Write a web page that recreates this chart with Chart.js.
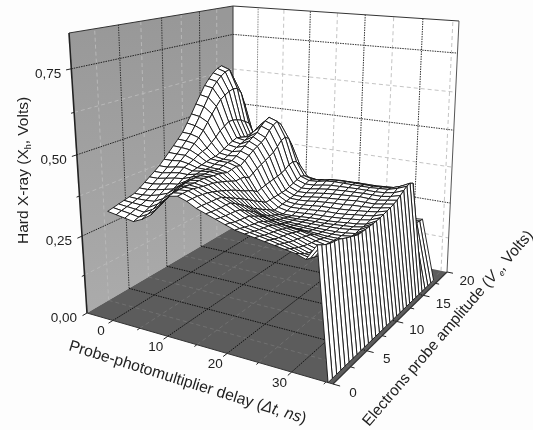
<!DOCTYPE html>
<html><head><meta charset="utf-8">
<style>html,body{margin:0;padding:0;background:#fdfdfd}canvas{display:block;position:absolute;left:0;top:0}</style>
<script src="https://cdn.jsdelivr.net/npm/chart.js@4"></script>
</head><body><canvas id="c" width="533" height="430"></canvas>
<script>
// ---- values ----
const delayTicks=[0,10,20,30];
const delayMinor=[5,15,25,35];
const ampTicks=[0,5,10,15,20];
const ampMinor=[2.5,7.5,12.5,17.5];
const hardTicks=[0,0.25,0.5,0.75];
const hardMinor=[0.125,0.375,0.625];
const hardLabels=["0,00","0,25","0,50","0,75"];
const delayRange=[-5,36];
const ampRange=[0,20];
const hardMax=0.85;
const delays=[0,1.5,3,4.5,6,7.5,9,10.5,12,13.5,15,16.5,18,19.5,21,22.5,24,25.5,27,28.5,30,31.5,33,35.3];
const amplitudes=[0,0.6,1.2,1.8,2.4,3,3.6,4.2,4.8,5.4,6,6.6,7.2,7.8,8.4,9,9.6,10.2,10.8,11.4,12,12.6,13.2,13.8,14.4,15,15.6,16.2,16.8,17.4,18];
// hard X-ray signal, mV: one row per amplitude, one value per delay
const signal=[
[345,340,335,330,342,360,395,425,430,420,405,395,385,375,365,360,355,350,345,340,335,325,370],
[349,345,341,336,349,368,402,428,431,421,406,393,382,372,362,356,351,346,340,334,326,320,362],
[353,350,347,343,357,377,408,430,432,421,405,392,380,368,358,352,346,341,335,327,318,315,355],
[357,355,353,351,366,386,414,431,431,419,404,391,379,366,355,349,343,337,330,321,312,311,350],
[361,360,360,362,375,396,420,431,428,417,404,392,378,364,352,346,340,334,326,317,308,308,347],
[365,365,368,375,385,405,425,430,425,413,402,390,375,362,350,344,337,331,323,313,305,306,345],
[375,375,379,385,391,410,427,431,423,408,394,381,366,354,344,338,332,327,319,310,303,304,339],
[386,386,390,396,399,414,428,431,421,403,386,371,357,347,337,332,327,322,315,307,301,303,333],
[397,397,402,407,410,419,428,429,417,397,378,361,348,338,330,325,321,317,311,304,300,303,328],
[408,408,413,417,416,422,427,426,412,391,370,350,336,326,318,314,311,308,304,300,298,302,323],
[420,420,425,428,421,425,428,425,407,384,361,338,323,313,306,303,301,300,298,296,296,300,318],
[435,435,438,433,425,424,425,421,401,376,352,329,314,306,301,299,298,297,296,295,296,300,318],
[451,450,450,440,428,424,423,417,395,368,342,320,306,299,296,295,294,294,294,294,296,300,318],
[467,465,462,449,432,428,428,420,396,362,333,312,300,295,294,294,294,294,295,296,299,303,319],
[483,481,476,455,435,432,432,424,394,355,325,303,294,291,291,292,293,293,295,297,299,304,319],
[500,498,490,460,437,432,432,420,385,345,315,295,288,288,290,292,293,293,295,298,300,305,320],
[525,520,508,472,442,438,441,430,394,349,316,297,291,291,293,295,296,297,299,302,305,310,322],
[550,545,530,485,450,445,451,441,403,353,317,300,295,296,298,300,302,302,304,308,311,315,325],
[578,572,552,500,458,453,462,451,410,356,318,302,299,300,303,306,307,308,310,313,316,320,328],
[604,598,572,510,464,459,472,459,417,359,319,305,304,306,310,312,314,315,318,319,321,325,331],
[630,625,590,520,470,465,481,466,424,362,320,308,308,312,316,318,320,322,325,325,325,330,335],
[648,642,600,520,466,472,490,477,432,366,325,313,314,318,322,325,327,329,331,330,330,335,340],
[664,656,608,516,460,482,506,495,445,372,330,318,320,325,329,331,333,334,335,335,335,340,348],
[675,666,612,510,452,490,518,508,460,382,335,325,326,331,335,336,337,338,338,338,340,345,357],
[680,670,610,500,445,497,525,515,465,385,340,330,332,338,340,340,340,340,340,342,344,352,364],
[650,640,590,490,435,485,510,500,455,380,335,328,330,335,338,338,338,338,338,340,342,352,367],
[600,590,545,455,410,452,475,465,425,362,325,320,322,328,331,331,332,332,332,334,336,346,360],
[420,415,390,340,300,320,345,350,330,280,240,235,232,230,228,226,225,224,224,222,220,218,215],
[320,315,300,265,240,250,262,265,250,225,205,200,198,196,195,195,196,198,200,202,205,208,212],
[280,278,265,240,220,225,235,238,225,205,190,188,186,186,186,188,190,192,195,198,202,206,210],
[250,248,238,220,205,210,218,220,210,195,182,180,180,180,182,184,186,190,193,196,200,205,208]
];
// ---- box view ----
const floorQuad=[[87,313],[333,384],[447,272],[232,228]];
const topQuad=[[69,33],[348,57],[459,21],[233,6]];
const depthBias=1.1;

function quadMap(q){
  const [[x0,y0],[x1,y1],[x2,y2],[x3,y3]]=q;
  const dx1=x1-x2,dx2=x3-x2,sx=x0-x1+x2-x3,dy1=y1-y2,dy2=y3-y2,sy=y0-y1+y2-y3;
  const d=dx1*dy2-dx2*dy1,g=(sx*dy2-dx2*sy)/d,h=(dx1*sy-sx*dy1)/d;
  const a=x1-x0+g*x1,b=x3-x0+h*x3,e=y1-y0+g*y1,f=y3-y0+h*y3;
  return (u,v)=>{const w=g*u+h*v+1;return [(a*u+b*v+x0)/w,(e*u+f*v+y0)/w];};
}
const mapFloor=quadMap(floorQuad),mapTop=quadMap(topQuad);
function P(t,a,z){
  const u=(t-delayRange[0])/(delayRange[1]-delayRange[0]),v=(a-ampRange[0])/(ampRange[1]-ampRange[0]);
  const s=z/hardMax,k=s/(s+(1-s)*depthBias);
  const F=mapFloor(u,v),T=mapTop(u,v);
  return {x:F[0]+(T[0]-F[0])*k,y:F[1]+(T[1]-F[1])*k};
}
const T0=delayRange[0],T1=delayRange[1],A0=ampRange[0],A1=ampRange[1];
const ds=[]; // painter order, far first
function poly(points,fill,stroke,w,dash){
  ds.push({data:points,showLine:true,pointRadius:0,tension:0,clip:false,
    fill:fill?'shape':false,backgroundColor:fill||'transparent',borderColor:stroke||'transparent',
    borderWidth:stroke?(w||1):0,borderDash:dash||[]});
}
const gctx=document.getElementById('c').getContext('2d');
const wallGrad=gctx.createLinearGradient(0,20,0,310);
wallGrad.addColorStop(0,'#989898');wallGrad.addColorStop(1,'#ababab');
// walls
poly([P(T0,A0,0),P(T0,A1,0),P(T0,A1,hardMax),P(T0,A0,hardMax),P(T0,A0,0)],wallGrad);
poly([P(T0,A1,0),P(T1,A1,0),P(T1,A1,hardMax),P(T0,A1,hardMax),P(T0,A1,0)],'#ffffff');
poly([P(T0,A0,0),P(T1,A0,0),P(T1,A1,0),P(T0,A1,0),P(T0,A0,0)],'#5c5c5c');
// minor grid
const MJ=[1.5,1],MN=[4,3];
hardMinor.forEach(z=>{poly([P(T0,A0,z),P(T0,A1,z)],null,'#b8b8b8',1,MN);poly([P(T0,A1,z),P(T1,A1,z)],null,'#c4c4c4',1,MN);});
ampMinor.forEach(a=>{poly([P(T0,a,0),P(T0,a,hardMax)],null,'#b8b8b8',1,MN);poly([P(T0,a,0),P(T1,a,0)],null,'#707070',1,MN);});
delayMinor.forEach(t=>{poly([P(t,A1,0),P(t,A1,hardMax)],null,'#c4c4c4',1,MN);poly([P(t,A0,0),P(t,A1,0)],null,'#707070',1,MN);});
// major grid
hardTicks.slice(1).forEach(z=>{poly([P(T0,A0,z),P(T0,A1,z)],null,'#222',1,MJ);poly([P(T0,A1,z),P(T1,A1,z)],null,'#333',1,MJ);});
ampTicks.slice(1,4).forEach(a=>{poly([P(T0,a,0),P(T0,a,hardMax)],null,'#333',1,MJ);poly([P(T0,a,0),P(T1,a,0)],null,'#111',1,MJ);});
delayTicks.forEach(t=>{poly([P(t,A1,0),P(t,A1,hardMax)],null,t===0?'#888':'#333',1,MJ);poly([P(t,A0,0),P(t,A1,0)],null,'#111',1,MJ);});
// box outline
poly([P(T0,A0,hardMax),P(T0,A1,hardMax),P(T1,A1,hardMax)],null,'#333',1);
poly([P(T0,A1,0),P(T0,A1,hardMax)],null,'#333',1);
poly([P(T1,A1,0),P(T1,A1,hardMax)],null,'#555',1);
poly([P(T0,A0,0),P(T0,A0,hardMax)],null,'#222',1.6);
poly([P(T0,A0,0),P(T1,A0,0)],null,'#333',1);
poly([P(T1,A0,0),P(T1,A1,0)],null,'#333',1.2);
// ticks
hardTicks.forEach(z=>poly([P(T0,A0,z),P(T0,A0-0.5,z)],null,'#222',1));
hardMinor.forEach(z=>poly([P(T0,A0,z),P(T0,A0-0.3,z)],null,'#222',1));
delayTicks.forEach(t=>poly([P(t,A0,0),P(t,A0-0.5,0)],null,'#222',1));
delayMinor.forEach(t=>poly([P(t,A0,0),P(t,A0-0.3,0)],null,'#222',1));
ampTicks.forEach(a=>poly([P(T1,a,0),P(T1+1,a,0)],null,'#222',1));
ampMinor.forEach(a=>poly([P(T1,a,0),P(T1+0.6,a,0)],null,'#222',1));
// surface: far rows first, last delay column falls to the floor
const zAt=(i,j)=>j<signal[i].length?signal[i][j]/1000:0;
for(let i=amplitudes.length-2;i>=0;i--){
  for(let j=0;j<delays.length-1;j++){
    poly([P(delays[j],amplitudes[i],zAt(i,j)),P(delays[j+1],amplitudes[i],zAt(i,j+1)),
          P(delays[j+1],amplitudes[i+1],zAt(i+1,j+1)),P(delays[j],amplitudes[i+1],zAt(i+1,j)),
          P(delays[j],amplitudes[i],zAt(i,j))],'#ffffff','#111',0.9);
  }
}
ds.reverse(); // Chart.js paints the last dataset first

const FONT='"Liberation Sans",Arial,sans-serif';
function runs(ctx,x,y,angle,parts){
  ctx.save();ctx.translate(x,y);ctx.rotate(angle*Math.PI/180);ctx.textAlign='left';ctx.textBaseline='alphabetic';
  let px=0;
  parts.forEach(p=>{ctx.font=(p.i?'italic ':'')+p.s+'px '+FONT;ctx.fillText(p.t,px,p.d||0);px+=ctx.measureText(p.t).width;});
  ctx.restore();
}
const textPlugin={id:'txt',afterDraw(chart){
  const ctx=chart.ctx;ctx.save();ctx.fillStyle='#222';ctx.font='13.5px '+FONT;ctx.textBaseline='middle';
  const sx=chart.scales.x,sy=chart.scales.y;
  const at=(p)=>[sx.getPixelForValue(p.x),sy.getPixelForValue(p.y)];
  ctx.textAlign='right';
  hardTicks.forEach((z,i)=>{const q=at(P(T0,A0,z));ctx.fillText(hardLabels[i],q[0]-10,q[1]+5);});
  ctx.textAlign='center';
  delayTicks.forEach(t=>{const q=at(P(t,A0,0));ctx.fillText(String(t),q[0]-12,q[1]+11);});
  ampTicks.forEach(a=>{const q=at(P(T1,a,0));ctx.fillText(String(a),q[0]+20,q[1]+9);});
  runs(ctx,28,244,-90,[{t:'Hard X-ray (X',s:15.5},{t:'h',s:9,d:3},{t:', Volts)',s:15.5}]);
  const S=15.8;
  runs(ctx,68,350,17.3,[{t:'Probe-photomultiplier delay (',s:S},{t:'\u0394t',s:S,i:1},{t:', ',s:S},{t:'ns',s:S,i:1},{t:')',s:S}]);
  const E=15.4;
  runs(ctx,369,427,-49.3,[{t:'Electrons probe amplitude (',s:E},{t:'V',s:E,i:1},{t:' e',s:8.5,d:3,i:1},{t:', Volts)',s:E}]);
  ctx.restore();
}};
new Chart(document.getElementById('c'),{type:'scatter',data:{datasets:ds},plugins:[textPlugin],options:{
  responsive:false,animation:false,events:[],
  layout:{padding:0},
  plugins:{legend:{display:false},tooltip:{enabled:false},title:{display:false}},
  scales:{x:{type:'linear',min:0,max:533,display:false},y:{type:'linear',min:0,max:430,reverse:true,display:false}}
}});
</script></body></html>
